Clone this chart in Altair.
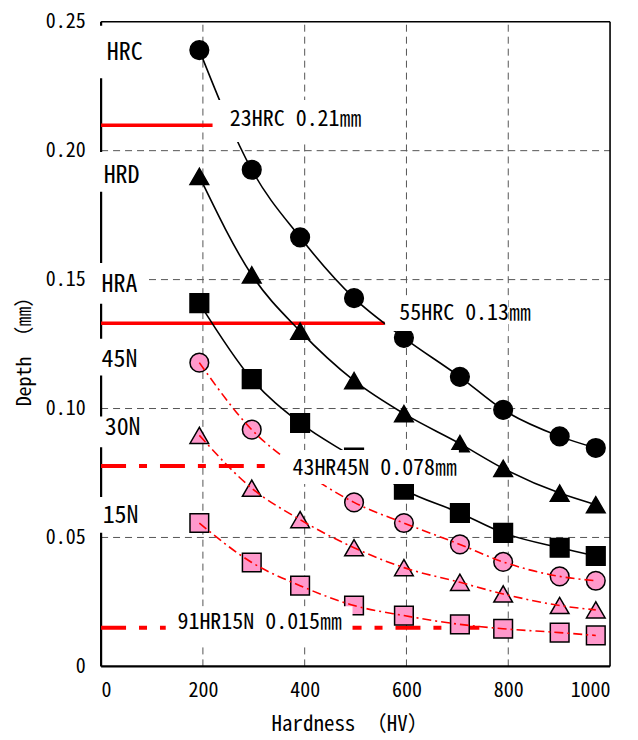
import altair as alt
import pandas as pd

# ---------------- data ----------------
hardness = [193, 296, 391, 497, 595, 705, 790, 901, 972]
hrc = [0.239, 0.1926, 0.1664, 0.1428, 0.1274, 0.1123, 0.0995, 0.0892, 0.0847]
hrd = [0.190, 0.1518, 0.130, 0.1108, 0.098, 0.0864, 0.0768, 0.0672, 0.0627]
hra = [0.1409, 0.1114, 0.0944, 0.081, 0.0685, 0.0595, 0.0518, 0.046, 0.0428]
n45 = [0.1178, 0.0918, 0.0765, 0.0636, 0.0556, 0.0473, 0.0405, 0.0349, 0.0332]
n30 = [0.0896, 0.0691, 0.0569, 0.046, 0.0383, 0.0326, 0.0281, 0.0236, 0.0219]
n15 = [0.0556, 0.0403, 0.0313, 0.0236, 0.0197, 0.0163, 0.0146, 0.0131, 0.012]

series_names = ["HRC", "HRD", "HRA", "45N", "30N", "15N"]
series_values = [hrc, hrd, hra, n45, n30, n15]
series_group = ["black", "black", "black", "pink", "pink", "pink"]

# side labels (left edge)
side_labels = ["HRC", "HRD", "HRA", "45N", "30N", "15N"]
side_label_x = [11, 5, 1, 1, 7, 3]
side_label_y = [0.2378, 0.1903, 0.1479, 0.1189, 0.0923, 0.0584]
side_box_top = [0.2484, 0.1995, 0.1564, 0.1271, 0.0969, 0.0657]
side_box_bottom = [0.2281, 0.1841, 0.1406, 0.1128, 0.0850, 0.0518]

# reference lines
ref_depth = [0.2099, 0.1331, 0.0777, 0.0150]
ref_end = [219, 557, 335, 756]
ref_dashed = [False, False, True, True]
ref_text = ["23HRC 0.21㎜", "55HRC 0.13㎜", "43HR45N 0.078㎜", "91HR15N 0.015㎜"]
ref_text_x = [253, 586, 376, 150]
ref_text_y = [0.2122, 0.1371, 0.0769, 0.0171]
ref_box_x = [223, 558, 356, 127]
ref_box_x2 = [527, 800, 703, 494]
ref_box_y = [0.2196, 0.1433, 0.0839, 0.0233]
ref_box_y2 = [0.2034, 0.1301, 0.0707, 0.0086]

x_grid = [200, 400, 600, 800]
y_grid = [0.05, 0.10, 0.15, 0.20]
x_ticks = [0, 200, 400, 600, 800, 1000]
y_ticks = [0, 0.05, 0.10, 0.15, 0.20, 0.25]

FONT = "Noto Sans Mono CJK JP, Noto Sans CJK JP, DejaVu Sans Mono, monospace"
PINK = "#FF99CC"

# ---------------- tables ----------------
rows = []
for name, vals, grp in zip(series_names, series_values, series_group):
    for h, d in zip(hardness, vals):
        rows.append({"series": name, "hardness": h, "depth": d, "group": grp})
pts = pd.DataFrame(rows)

side_df = pd.DataFrame({
    "label": side_labels, "x": side_label_x, "y": side_label_y,
    "bx": [-6] * 6, "bx2": [88] * 6, "by": side_box_top, "by2": side_box_bottom,
})
ref_df = pd.DataFrame({
    "depth": ref_depth, "x0": [0] * 4, "xend": ref_end, "dashed": ref_dashed,
    "text": ref_text, "tx": ref_text_x, "ty": ref_text_y,
    "bx": ref_box_x, "bx2": ref_box_x2, "by": ref_box_y, "by2": ref_box_y2,
})
xg = pd.DataFrame({"v": x_grid})
yg = pd.DataFrame({"v": y_grid})

xs = alt.Scale(domain=[0, 1000], nice=False, zero=False)
ys = alt.Scale(domain=[0, 0.25], nice=False, zero=False)

X = lambda f: alt.X(f, type="quantitative", scale=xs)
Y = lambda f: alt.Y(f, type="quantitative", scale=ys)

# gridlines
grid_v = alt.Chart(xg).mark_rule(color="#555555", strokeWidth=1, strokeDash=[7, 5]).encode(
    x=X("v"), y=alt.datum(0, scale=ys), y2=alt.datum(0.25))
grid_h = alt.Chart(yg).mark_rule(color="#555555", strokeWidth=1, strokeDash=[7, 5]).encode(
    y=Y("v"), x=alt.datum(0, scale=xs), x2=alt.datum(1000))

# frame
frame_left = alt.Chart(pd.DataFrame({"v": [0]})).mark_rule(color="black", strokeWidth=2.2).encode(
    x=X("v"), y=alt.datum(0, scale=ys), y2=alt.datum(0.25))
frame_right = alt.Chart(pd.DataFrame({"v": [1000]})).mark_rule(color="black", strokeWidth=1.6).encode(
    x=X("v"), y=alt.datum(0, scale=ys), y2=alt.datum(0.25))
frame_bottom = alt.Chart(pd.DataFrame({"v": [0]})).mark_rule(color="black", strokeWidth=2.2).encode(
    y=Y("v"), x=alt.datum(0, scale=xs), x2=alt.datum(1000))
frame_top = alt.Chart(pd.DataFrame({"v": [0.25]})).mark_rule(color="black", strokeWidth=1.4).encode(
    y=Y("v"), x=alt.datum(0, scale=xs), x2=alt.datum(1000))

# reference lines
ref_solid = alt.Chart(ref_df).transform_filter("!datum.dashed").mark_rule(
    color="#FF0000", strokeWidth=3.5).encode(x=X("x0"), x2="xend:Q", y=Y("depth"))
ref_dash = alt.Chart(ref_df).transform_filter("datum.dashed").mark_rule(
    color="#FF0000", strokeWidth=4, strokeDash=[25, 13, 8, 13]).encode(x=X("x0"), x2="xend:Q", y=Y("depth"))

# markers
shape_scale = alt.Scale(domain=series_names,
                        range=["circle", "triangle-up", "square", "circle", "triangle-up", "square"])
fill_scale = alt.Scale(domain=series_names,
                       range=["black", "black", "black", PINK, PINK, PINK])
markers = alt.Chart(pts).mark_point(filled=True, size=350, stroke="black", strokeWidth=1.5, opacity=1).encode(
    x=X("hardness"), y=Y("depth"),
    shape=alt.Shape("series:N", scale=shape_scale, legend=None),
    fill=alt.Fill("series:N", scale=fill_scale, legend=None),
)

# curves
black_lines = alt.Chart(pts).transform_filter("datum.group == 'black'").mark_line(
    color="black", strokeWidth=1.6, interpolate="monotone").encode(
    x=X("hardness"), y=Y("depth"), detail="series:N", order="hardness:Q")
pink_lines = alt.Chart(pts).transform_filter("datum.group == 'pink'").mark_line(
    color="#FF0000", strokeWidth=1.6, strokeDash=[9, 4, 2, 4], interpolate="monotone").encode(
    x=X("hardness"), y=Y("depth"), detail="series:N", order="hardness:Q")

# white boxes
side_boxes = alt.Chart(side_df).mark_rect(color="white").encode(
    x=X("bx"), x2="bx2:Q", y=Y("by"), y2="by2:Q")
ref_boxes = alt.Chart(ref_df).mark_rect(color="white").encode(
    x=X("bx"), x2="bx2:Q", y=Y("by"), y2="by2:Q")

# texts
side_text = alt.Chart(side_df).mark_text(
    font=FONT, fontSize=24, align="left", baseline="middle", color="black").encode(
    x=X("x"), y=Y("y"), text="label:N")
ref_label = alt.Chart(ref_df).mark_text(
    font=FONT, fontSize=22, align="left", baseline="middle", color="black").encode(
    x=X("tx"), y=Y("ty"), text="text:N")

# axes (labels and titles only)
axes = alt.Chart(pd.DataFrame({"x": [0], "y": [0]})).mark_point(opacity=0).encode(
    x=alt.X("x:Q", scale=xs, axis=alt.Axis(
        values=x_ticks, format="d", title="Hardness （HV）", labelPadding=14,
        titleX=249, titleY=58, titleBaseline="middle", titleAlign="center",
        titleFontSize=21)),
    y=alt.Y("y:Q", scale=ys, axis=alt.Axis(
        values=y_ticks, title="Depth （㎜）", labelPadding=16,
        labelExpr="datum.value == 0 ? '0' : format(datum.value, '.2f')",
        titleX=-77, titleY=325, titleBaseline="middle", titleAlign="center",
        titleFontSize=20)),
)

chart = alt.layer(
    grid_v, grid_h, frame_left, frame_right, frame_bottom, frame_top,
    ref_solid, ref_dash, markers, black_lines, pink_lines,
    side_boxes, ref_boxes, side_text, ref_label, axes,
).properties(
    width=510, height=646,
    padding={"left": 93.3, "top": 13, "right": 20, "bottom": 72},
    autosize=alt.AutoSizeParams(type="none"),
).configure_view(strokeWidth=0).configure_axis(
    grid=False, domain=False, ticks=False, tickSize=0,
    labelFont=FONT, labelFontSize=20, labelColor="black",
    titleFont=FONT, titleFontWeight="normal", titleColor="black",
)

chart.save("out.html", embed_options={"renderer": "svg", "actions": False})
